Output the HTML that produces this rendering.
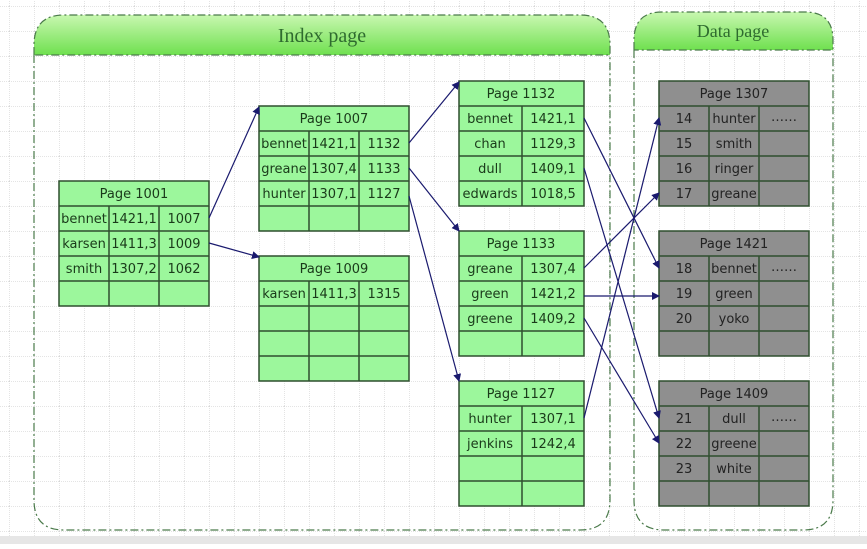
<!DOCTYPE html>
<html><head><meta charset="utf-8"><style>
body{margin:0;width:867px;height:544px;overflow:hidden;background:#fff;}
svg text{font-family:"DejaVu Sans","Liberation Sans",sans-serif;font-size:13px;fill:#1a3a1a;}
</style></head><body>
<svg width="867" height="544" viewBox="0 0 867 544" xmlns="http://www.w3.org/2000/svg">
<defs>
<pattern id="g" x="9" y="6" width="25" height="25" patternUnits="userSpaceOnUse">
<path d="M0 0V25M0 0H25" stroke="#c8c8c8" stroke-width="1" stroke-dasharray="1,1" fill="none"/>
</pattern>
<linearGradient id="hg" x1="0" y1="0" x2="0" y2="1"><stop offset="0" stop-color="#c8f7b0"/><stop offset="1" stop-color="#6fe04f"/></linearGradient>
<marker id="a" markerWidth="8" markerHeight="8" refX="7" refY="4" orient="auto" markerUnits="userSpaceOnUse"><path d="M0 0L8 4L0 8z" fill="#1a1a6e"/></marker>
</defs>
<rect width="867" height="544" fill="url(#g)"/>
<!-- containers -->
<path d="M34 55V45Q34 15 64 15H580Q610 15 610 45V55Z" fill="url(#hg)"/>
<path d="M34 55V500Q34 530 64 530H580Q610 530 610 500V55" fill="none" stroke="#4a7a4a" stroke-width="1.2" stroke-dasharray="8,3,2,3"/>
<path d="M34 55V45Q34 15 64 15H580Q610 15 610 45V55H34" fill="none" stroke="#4a7a4a" stroke-width="1.2" stroke-dasharray="8,3,2,3"/>
<text x="322" y="42" text-anchor="middle" style="font-family:'Liberation Serif',serif;font-size:20px;fill:#2f6b2f">Index page</text>
<path d="M634 50V40Q634 12 662 12H805Q833 12 833 40V50Z" fill="url(#hg)"/>
<path d="M634 50V500Q634 530 664 530H803Q833 530 833 500V50" fill="none" stroke="#4a7a4a" stroke-width="1.2" stroke-dasharray="8,3,2,3"/>
<path d="M634 50V40Q634 12 662 12H805Q833 12 833 40V50H634" fill="none" stroke="#4a7a4a" stroke-width="1.2" stroke-dasharray="8,3,2,3"/>
<text x="733" y="37" text-anchor="middle" style="font-family:'Liberation Serif',serif;font-size:18px;fill:#2f6b2f">Data page</text>
<rect x="0" y="536" width="867" height="8" fill="#e6e6e6"/>

<g stroke="#2f4f2f" stroke-width="1.5">
<!-- green boxes -->
<rect x="59" y="181" width="150" height="125" fill="#9cf79c"/>
<rect x="259" y="106" width="150" height="125" fill="#9cf79c"/>
<rect x="259" y="256" width="150" height="125" fill="#9cf79c"/>
<rect x="459" y="81" width="125" height="125" fill="#9cf79c"/>
<rect x="459" y="231" width="125" height="125" fill="#9cf79c"/>
<rect x="459" y="381" width="125" height="125" fill="#9cf79c"/>
<rect x="659" y="81" width="150" height="125" fill="#8f8f8f"/>
<rect x="659" y="231" width="150" height="125" fill="#8f8f8f"/>
<rect x="659" y="381" width="150" height="125" fill="#8f8f8f"/>
<path fill="none" d="
M59 206H209M59 231H209M59 256H209M59 281H209M109 206V306M159 206V306
M259 131H409M259 156H409M259 181H409M259 206H409M309 131V231M359 131V231
M259 281H409M259 306H409M259 331H409M259 356H409M309 281V381M359 281V381
M459 106H584M459 131H584M459 156H584M459 181H584M522 106V206
M459 256H584M459 281H584M459 306H584M459 331H584M522 256V356
M459 406H584M459 431H584M459 456H584M459 481H584M522 406V506
M659 106H809M659 131H809M659 156H809M659 181H809M709 106V206M759 106V206
M659 256H809M659 281H809M659 306H809M659 331H809M709 256V356M759 256V356
M659 406H809M659 431H809M659 456H809M659 481H809M709 406V506M759 406V506"/>
</g>
<g text-anchor="middle">
<text x="134" y="198">Page 1001</text>
<text x="84" y="223">bennet</text><text x="134" y="223">1421,1</text><text x="184" y="223">1007</text>
<text x="84" y="248">karsen</text><text x="134" y="248">1411,3</text><text x="184" y="248">1009</text>
<text x="84" y="273">smith</text><text x="134" y="273">1307,2</text><text x="184" y="273">1062</text>
<text x="334" y="123">Page 1007</text>
<text x="284" y="148">bennet</text><text x="334" y="148">1421,1</text><text x="384" y="148">1132</text>
<text x="284" y="173">greane</text><text x="334" y="173">1307,4</text><text x="384" y="173">1133</text>
<text x="284" y="198">hunter</text><text x="334" y="198">1307,1</text><text x="384" y="198">1127</text>
<text x="334" y="273">Page 1009</text>
<text x="284" y="298">karsen</text><text x="334" y="298">1411,3</text><text x="384" y="298">1315</text>
<text x="521" y="98">Page 1132</text>
<text x="490" y="123">bennet</text><text x="553" y="123">1421,1</text>
<text x="490" y="148">chan</text><text x="553" y="148">1129,3</text>
<text x="490" y="173">dull</text><text x="553" y="173">1409,1</text>
<text x="490" y="198">edwards</text><text x="553" y="198">1018,5</text>
<text x="521" y="248">Page 1133</text>
<text x="490" y="273">greane</text><text x="553" y="273">1307,4</text>
<text x="490" y="298">green</text><text x="553" y="298">1421,2</text>
<text x="490" y="323">greene</text><text x="553" y="323">1409,2</text>
<text x="521" y="398">Page 1127</text>
<text x="490" y="423">hunter</text><text x="553" y="423">1307,1</text>
<text x="490" y="448">jenkins</text><text x="553" y="448">1242,4</text>
</g>
<g text-anchor="middle" style="fill:#222">
<text x="734" y="98" style="fill:#222">Page 1307</text>
<text x="684" y="123" style="fill:#222">14</text><text x="734" y="123" style="fill:#222">hunter</text><text x="784" y="121" style="fill:#222">……</text>
<text x="684" y="148" style="fill:#222">15</text><text x="734" y="148" style="fill:#222">smith</text>
<text x="684" y="173" style="fill:#222">16</text><text x="734" y="173" style="fill:#222">ringer</text>
<text x="684" y="198" style="fill:#222">17</text><text x="734" y="198" style="fill:#222">greane</text>
<text x="734" y="248" style="fill:#222">Page 1421</text>
<text x="684" y="273" style="fill:#222">18</text><text x="734" y="273" style="fill:#222">bennet</text><text x="784" y="271" style="fill:#222">……</text>
<text x="684" y="298" style="fill:#222">19</text><text x="734" y="298" style="fill:#222">green</text>
<text x="684" y="323" style="fill:#222">20</text><text x="734" y="323" style="fill:#222">yoko</text>
<text x="734" y="398" style="fill:#222">Page 1409</text>
<text x="684" y="423" style="fill:#222">21</text><text x="734" y="423" style="fill:#222">dull</text><text x="784" y="421" style="fill:#222">……</text>
<text x="684" y="448" style="fill:#222">22</text><text x="734" y="448" style="fill:#222">greene</text>
<text x="684" y="473" style="fill:#222">23</text><text x="734" y="473" style="fill:#222">white</text>
</g>
<g stroke="#1a1a6e" stroke-width="1.2" fill="none" marker-end="url(#a)">
<line x1="209" y1="218" x2="259" y2="107"/>
<line x1="209" y1="243" x2="259" y2="257"/>
<line x1="409" y1="143" x2="459" y2="82"/>
<line x1="409" y1="168" x2="459" y2="231"/>
<line x1="409" y1="196" x2="459" y2="381"/>
<line x1="584" y1="118" x2="659" y2="268"/>
<line x1="584" y1="168" x2="659" y2="418"/>
<line x1="584" y1="268" x2="659" y2="193"/>
<line x1="584" y1="296" x2="659" y2="296"/>
<line x1="584" y1="318" x2="659" y2="443"/>
<line x1="584" y1="418" x2="659" y2="118"/>
</g>
</svg>
</body></html>
